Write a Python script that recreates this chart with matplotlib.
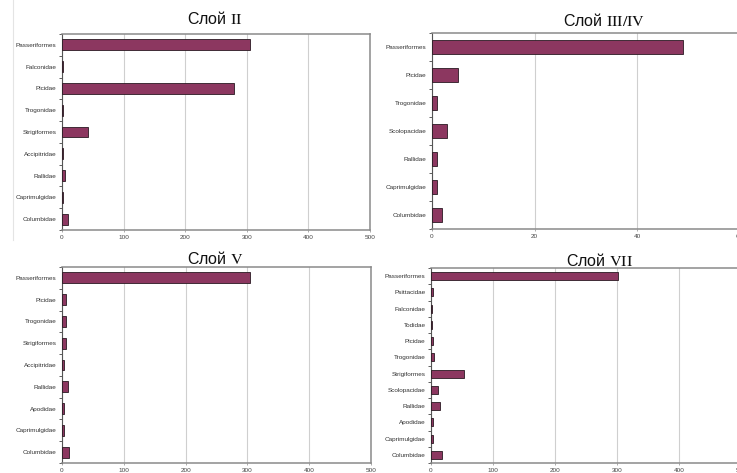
import matplotlib
matplotlib.use("Agg")
import matplotlib.pyplot as plt
import numpy as np

plt.rcParams['font.family'] = ['Liberation Sans', 'DejaVu Sans']
plt.rcParams['mathtext.fontset'] = 'stix'

# layer II
taxa_2 = ["Passeriformes", "Falconidae", "Picidae", "Trogonidae", "Strigiformes",
          "Accipitridae", "Rallidae", "Caprimulgidae", "Columbidae"]
counts_2 = [305, 1, 279, 1, 43, 2, 5, 1, 9]

# layer III/IV
taxa_34 = ["Passeriformes", "Picidae", "Trogonidae", "Scolopacidae", "Rallidae",
           "Caprimulgidae", "Columbidae"]
counts_34 = [49, 5, 1, 3, 1, 1, 2]

# layer V
taxa_5 = ["Passeriformes", "Picidae", "Trogonidae", "Strigiformes", "Accipitridae",
          "Rallidae", "Apodidae", "Caprimulgidae", "Columbidae"]
counts_5 = [305, 6, 7, 7, 3, 9, 3, 3, 12]

# layer VII
taxa_7 = ["Passeriformes", "Psittacidae", "Falconidae", "Todidae", "Picidae",
          "Trogonidae", "Strigiformes", "Scolopacidae", "Rallidae", "Apodidae",
          "Caprimulgidae", "Columbidae"]
counts_7 = [302, 4, 2, 2, 3, 5, 54, 12, 15, 3, 3, 18]

W, H = 737, 473
BAR = "#8c3760"


def panel(rect, taxa, counts, xmax, xstep, title, title_xy):
    l, t, r, b = rect
    ax = fig.add_axes([l / W, 1 - b / H, (r - l) / W, (b - t) / H])
    n = len(taxa)
    y = np.arange(n)
    ax.barh(y, counts, height=0.5, color=BAR, edgecolor="#2a1a22", linewidth=0.6, zorder=3)
    ax.set_ylim(n - 0.5, -0.5)
    ax.set_xlim(0, xmax)
    ax.set_yticks(y)
    ax.set_yticklabels(taxa)
    ax.set_yticks(np.arange(n + 1) - 0.5, minor=True)
    ax.set_xticks(np.arange(0, xmax + 1, xstep))
    ax.tick_params(axis="y", which="major", length=0, pad=4, labelsize=4.6, labelcolor="#333333")
    ax.tick_params(axis="y", which="minor", length=2.5, width=0.6, color="#444444")
    ax.tick_params(axis="x", length=1.5, width=0.5, pad=2, labelsize=4.6,
                   labelcolor="#444444", color="#888888")
    ax.grid(axis="x", color="#cfcfcf", linewidth=0.8, zorder=0)
    for name, sp in ax.spines.items():
        sp.set_color("#8a8a8a")
        sp.set_linewidth(1.1)
    ax.spines["left"].set_color("#555555")
    ax.spines["left"].set_linewidth(0.8)
    fig.text(title_xy[0] / W, 1 - title_xy[1] / H, title, ha="center", va="center",
             fontsize=11.5, color="#111111")
    return ax


fig = plt.figure(figsize=(W / 100, H / 100), dpi=100)

# faint border of the left column
fig.add_artist(plt.Line2D([13 / W, 13 / W], [1 - 240 / H, 1], color="#e4e4e4", linewidth=0.8))

panel((62, 34, 370, 230), taxa_2, counts_2, 500, 100, r"Слой $\mathrm{II}$", (215, 19))
panel((432, 33, 739.5, 229), taxa_34, counts_34, 60, 20, r"Слой $\mathrm{III/IV}$", (604, 20))
panel((62, 267, 371, 463), taxa_5, counts_5, 500, 100, r"Слой $\mathrm{V}$", (215, 258))
panel((431, 268, 741, 463), taxa_7, counts_7, 500, 100, r"Слой $\mathrm{VII}$", (600, 260))

fig.savefig("out.png", dpi=100)
